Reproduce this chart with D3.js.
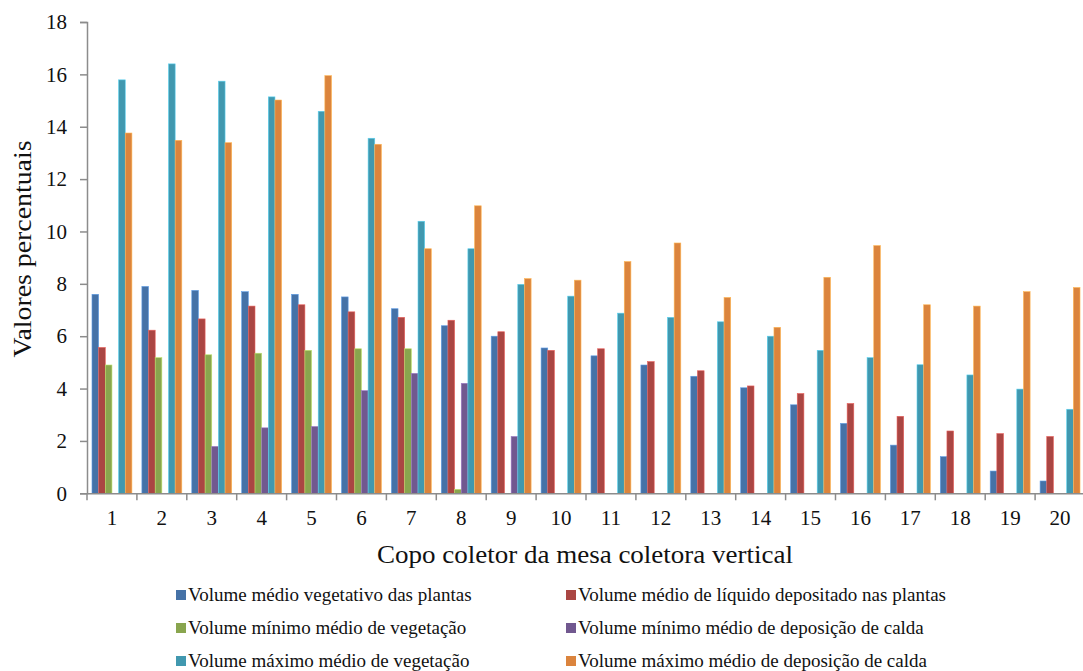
<!DOCTYPE html>
<html>
<head>
<meta charset="utf-8">
<script src="https://cdn.jsdelivr.net/npm/d3@7"></script>
<style>
  html, body { margin: 0; padding: 0; background: #fff; }
  svg text { font-family: "Liberation Serif", "Times New Roman", serif; }
</style>
</head>
<body>
<svg id="chart" width="1083" height="671"></svg>
<script>
// Collector cup positions on the vertical collecting table
const categories = ["1","2","3","4","5","6","7","8","9","10","11","12","13","14","15","16","17","18","19","20"];

// Percentage values per series
const volMedioVegetativo = [7.6, 7.9, 7.75, 7.7, 7.6, 7.5, 7.05, 6.4, 6.0, 5.55, 5.25, 4.9, 4.47, 4.03, 3.38, 2.67, 1.84, 1.4, 0.85, 0.47];
const volMedioLiquido    = [5.57, 6.23, 6.66, 7.15, 7.2, 6.93, 6.72, 6.61, 6.17, 5.46, 5.52, 5.03, 4.68, 4.1, 3.81, 3.43, 2.94, 2.38, 2.28, 2.17];
const volMinimoVegetacao = [4.9, 5.18, 5.29, 5.35, 5.46, 5.52, 5.52, 0.15, 0, 0, 0, 0, 0, 0, 0, 0, 0, 0, 0, 0];
const volMinimoDeposicao = [0, 0, 1.79, 2.5, 2.55, 3.92, 4.58, 4.2, 2.17, 0, 0, 0, 0, 0, 0, 0, 0, 0, 0, 0];
const volMaximoVegetacao = [15.79, 16.4, 15.74, 15.14, 14.59, 13.56, 10.39, 9.34, 7.98, 7.53, 6.88, 6.72, 6.55, 6.0, 5.46, 5.18, 4.91, 4.52, 3.98, 3.21];
const volMaximoDeposicao = [13.76, 13.48, 13.39, 15.02, 15.95, 13.33, 9.34, 10.98, 8.2, 8.14, 8.85, 9.56, 7.48, 6.34, 8.25, 9.46, 7.2, 7.15, 7.7, 7.86];

const seriesNames = [
  "Volume médio vegetativo das plantas",
  "Volume médio de líquido depositado nas plantas",
  "Volume mínimo médio de vegetação",
  "Volume mínimo médio de deposição de calda",
  "Volume máximo médio de vegetação",
  "Volume máximo médio de deposição de calda"
];
const seriesValues = [volMedioVegetativo, volMedioLiquido, volMinimoVegetacao, volMinimoDeposicao, volMaximoVegetacao, volMaximoDeposicao];
const seriesColors = ["#4572A7", "#AA4643", "#89A54E", "#71588F", "#4198AF", "#DB843D"];

const yTicks = [0, 2, 4, 6, 8, 10, 12, 14, 16, 18];

const serif = "'Liberation Serif', 'Times New Roman', serif";
const svg = d3.select("#chart");
const plot = { left: 87, right: 1085, top: 22, bottom: 493.3 };
const axisColor = "#8c8c8c";
const textColor = "#111";

const x0 = d3.scaleBand().domain(categories).range([plot.left, plot.right]).paddingInner(0).paddingOuter(0);
const x1 = d3.scaleBand().domain(d3.range(seriesNames.length)).range([0, x0.bandwidth()]).paddingInner(0).paddingOuter(0.75);
const y = d3.scaleLinear().domain([0, 18]).range([plot.bottom, plot.top]);

const color = d3.scaleOrdinal().domain(d3.range(seriesNames.length)).range(seriesColors);

// Bars
const groups = svg.append("g").selectAll("g")
  .data(categories)
  .join("g")
  .attr("transform", d => `translate(${x0(d)},0)`);

groups.selectAll("rect")
  .data((d, i) => seriesValues.map((vals, s) => ({ s, v: vals[i] })))
  .join("rect")
  .filter(d => d.v > 0)
  .attr("x", d => x1(d.s))
  .attr("width", x1.bandwidth())
  .attr("y", d => y(d.v))
  .attr("height", d => y(0) - y(d.v))
  .attr("fill", d => color(d.s))
  .attr("stroke", d => d3.color(color(d.s)).brighter(0.9))
  .attr("stroke-width", 0.6);

// Y axis
const yAxis = svg.append("g")
  .attr("transform", `translate(${plot.left},0)`)
  .call(d3.axisLeft(y).tickValues(yTicks).tickSize(7).tickPadding(13).tickFormat(d3.format("d")))
  .attr("font-family", serif)
  .attr("font-size", 21);
yAxis.select(".domain").attr("stroke", axisColor).attr("stroke-width", 1.5);
yAxis.selectAll(".tick line").attr("stroke", axisColor).attr("stroke-width", 1.5);
yAxis.selectAll(".tick text").attr("fill", textColor);

// X axis: tick marks at category boundaries, labels at centres
const xAxis = svg.append("g")
  .attr("transform", `translate(0,${plot.bottom})`)
  .call(d3.axisBottom(x0).tickSize(0).tickPadding(17))
  .attr("font-family", serif)
  .attr("font-size", 21);
xAxis.select(".domain").attr("stroke", axisColor).attr("stroke-width", 1.5);
xAxis.selectAll(".tick text").attr("fill", textColor);
xAxis.selectAll("line.boundary")
  .data(categories.concat(["end"]))
  .join("line")
  .attr("class", "boundary")
  .attr("x1", (d, i) => plot.left + i * x0.step())
  .attr("x2", (d, i) => plot.left + i * x0.step())
  .attr("y1", 0)
  .attr("y2", 7)
  .attr("stroke", axisColor)
  .attr("stroke-width", 1.5);

// Axis titles
svg.append("text")
  .attr("transform", `translate(31,249) rotate(-90)`)
  .attr("text-anchor", "middle")
  .attr("fill", textColor)
  .attr("font-family", serif)
  .attr("font-size", 25)
  .attr("textLength", 217)
  .attr("lengthAdjust", "spacingAndGlyphs")
  .text("Valores percentuais");

svg.append("text")
  .attr("x", 585)
  .attr("y", 563)
  .attr("text-anchor", "middle")
  .attr("fill", textColor)
  .attr("font-family", serif)
  .attr("font-size", 25)
  .attr("textLength", 416)
  .attr("lengthAdjust", "spacingAndGlyphs")
  .text("Copo coletor da mesa coletora vertical");

// Legend: two columns, three rows
const legendCols = [176, 566];
const legendRows = [601, 634, 667];
const legend = svg.append("g").selectAll("g")
  .data(seriesNames)
  .join("g")
  .attr("transform", (d, i) => `translate(${legendCols[i % 2]},${legendRows[Math.floor(i / 2)]})`);
legend.append("rect")
  .attr("x", 0)
  .attr("y", -11)
  .attr("width", 10)
  .attr("height", 10)
  .attr("fill", (d, i) => color(i));
legend.append("text")
  .attr("x", 12)
  .attr("y", 0)
  .attr("fill", textColor)
  .attr("font-family", serif)
  .attr("font-size", 19)
  .text(d => d);
</script>
</body>
</html>
